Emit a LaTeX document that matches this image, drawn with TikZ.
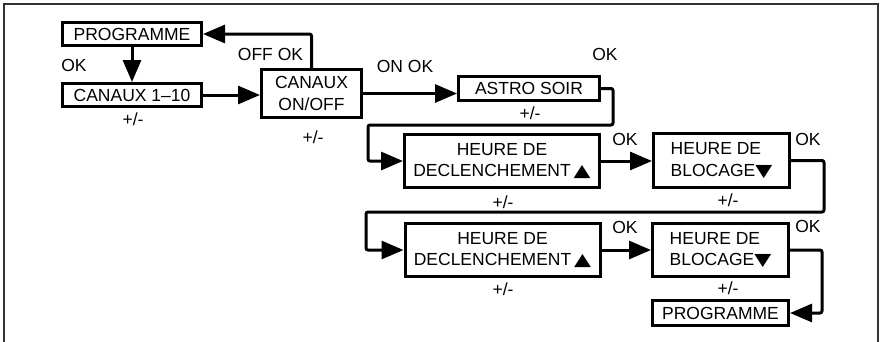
\documentclass[tikz,border=0pt]{standalone}
\usepackage{fontspec}
\setmainfont{Liberation Sans}
\newfontfamily\dejavu{DejaVu Sans}
\newcommand\uptri{\scalebox{1.05}[0.82]{\dejavu\fontsize{21}{21}\selectfont ▲}}
\newcommand\dntri{\scalebox{1.05}[0.82]{\dejavu\fontsize{21}{21}\selectfont ▼}}
\usetikzlibrary{arrows.meta}
\begin{document}
\begin{tikzpicture}[x=1pt,y=-1pt,
  font=\fontsize{17.5}{21.7}\selectfont,
  box/.style={draw, line width=3pt, inner sep=0pt, align=center},
  conn/.style={line width=3pt, line join=round, rounded corners=2pt,
    -{Triangle[length=22pt,width=18pt]}},
  lbl/.style={inner sep=0pt}]
\useasboundingbox (0,0) rectangle (880,341);
\draw[line width=1.5pt, color=black!80] (4,345) -- (4,4) -- (878,4) -- (878,345);
% boxes
\node[box, minimum width=139pt, minimum height=23pt] (prog1) at (132,34) {PROGRAMME};
\node[box, minimum width=139pt, minimum height=23pt] (can) at (132,95) {CANAUX 1–10};
\node[box, minimum width=100pt, minimum height=48pt] (onoff) at (311.5,93.5) {CANAUX\\ON/OFF};
\node[box, minimum width=141pt, minimum height=24pt] (astro) at (529,88.5) {ASTRO SOIR};
\node[box, minimum width=195pt, minimum height=53pt] (decl1) at (502,161) {HEURE DE\\DECLENCHEMENT\,\uptri};
\node[box, minimum width=136pt, minimum height=54pt, align=left] (bloc1) at (721.5,160.5) {HEURE DE\\BLOCAGE\dntri};
\node[box, minimum width=195pt, minimum height=53pt] (decl2) at (502.5,250) {HEURE DE\\DECLENCHEMENT\,\uptri};
\node[box, minimum width=136pt, minimum height=53pt, align=left] (bloc2) at (720.5,250) {HEURE DE\\BLOCAGE\dntri};
\node[box, minimum width=136pt, minimum height=25pt] (prog2) at (720.5,313) {PROGRAMME};
% turning points
\coordinate (a1) at (613,125);
\coordinate (a2) at (368,125);
\coordinate (b1) at (824,212);
\coordinate (b2) at (366,212);
\coordinate (d1) at (822,290);
% connectors
\draw[conn] (prog1.south) -- (can.north);
\draw[conn] (can.east) -- (can.east -| onoff.west);
\draw[conn] (onoff.north) |- (prog1.east);
\draw[conn] (onoff.east) -- (onoff.east -| astro.west);
\draw[conn] (astro.east) -| (a1) -- (a2) |- (decl1.west);
\draw[conn] (decl1.east) -- (decl1.east -| bloc1.west);
\draw[conn] (bloc1.east) -| (b1) -- (b2) |- (decl2.west);
\draw[conn] (decl2.east) -- (decl2.east -| bloc2.west);
\draw[conn] (bloc2.east) -| (d1) |- (prog2.east);
% labels
\node[lbl] (l1) at (74,65) {OK};
\node[lbl] (l2) at (133,119) {+/-};
\node[lbl] (l3) at (270.5,54) {OFF OK};
\node[lbl] (l4) at (313,137) {+/-};
\node[lbl] (l5) at (405,66) {ON OK};
\node[lbl] (l6) at (605,54) {OK};
\node[lbl] (l7) at (530,113) {+/-};
\node[lbl] (l8) at (625,139) {OK};
\node[lbl] (l9) at (503,202) {+/-};
\node[lbl] (l10) at (808,139) {OK};
\node[lbl] (l11) at (728,200) {+/-};
\node[lbl] (l12) at (625,227) {OK};
\node[lbl] (l13) at (503,289) {+/-};
\node[lbl] (l14) at (808,226) {OK};
\node[lbl] (l15) at (728,288) {+/-};
\end{tikzpicture}
\end{document}
